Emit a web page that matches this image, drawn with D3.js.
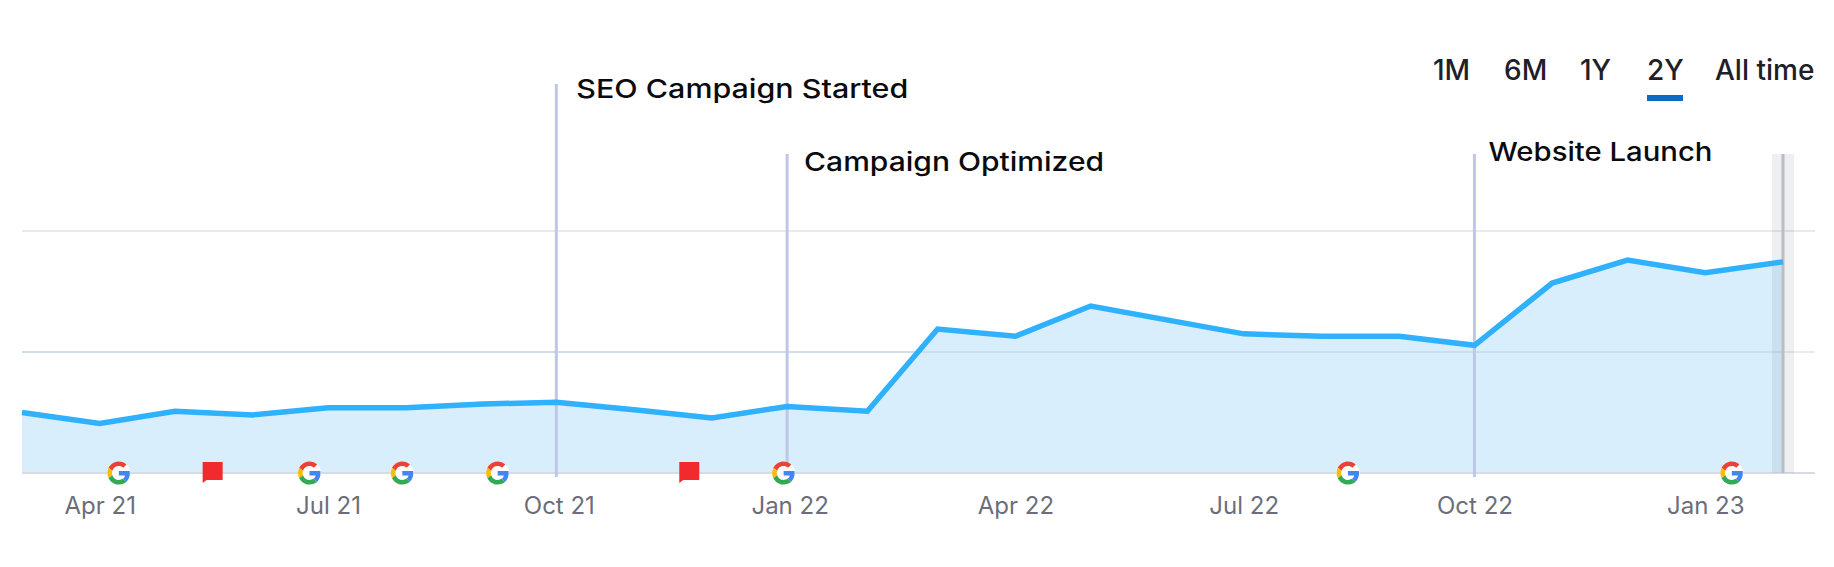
<!DOCTYPE html>
<html>
<head>
<meta charset="utf-8">
<script src="https://d3js.org/d3.v7.min.js"></script>
<style>
  html, body { margin: 0; padding: 0; background: #fff; }
  svg { display: block; }
  text { font-family: Inter, sans-serif; }
</style>
</head>
<body>
<div id="chart"></div>
<script>
const dates = ["2021-03-01","2021-04-01","2021-05-01","2021-06-01","2021-07-01","2021-08-01","2021-09-01","2021-09-30","2021-11-01","2021-12-01","2021-12-31","2022-02-01","2022-03-01","2022-04-01","2022-05-01","2022-07-01","2022-08-01","2022-09-01","2022-10-01","2022-11-01","2022-12-01","2023-01-01","2023-02-01"];
const visibility = [0.50,0.41,0.51,0.48,0.54,0.54,0.57,0.585,0.52,0.455,0.55,0.51,1.19,1.13,1.38,1.15,1.13,1.13,1.055,1.57,1.76,1.655,1.745];

const tickMonths = ["2021-04","2021-07","2021-10","2022-01","2022-04","2022-07","2022-10","2023-01"];
const gridValues = [1, 2];

const googleDates = ["2021-04-09","2021-06-24","2021-07-31","2021-09-07","2021-12-30","2022-08-12","2023-01-12"];
const noteDates = ["2021-05-16","2021-11-22"];

const eventDates = ["2021-09-30","2021-12-31","2022-10-01"];
const eventLabels = ["SEO Campaign Started","Campaign Optimized","Website Launch"];
const eventTops = [84, 154, 154];
const eventBaselines = [98, 171, 161];
const eventLabelWidths = [332, 300, 224];
const eventLabelOffsets = [20, 17, 14];

const ranges = ["1M","6M","1Y","2Y","All time"];
const rangeX = [1433,1504,1580,1647,1715];
const activeRange = "2Y";

const width = 1834, height = 567;
const left = 22, right = 1783, gridEnd = 1815;
const baseY = 473;

const parseMonth = d3.utcParse("%Y-%m");
const parseDay = d3.utcParse("%Y-%m-%d");

const data = dates.map((m, i) => ({ date: parseDay(m), value: visibility[i] }));

const svg = d3.select("#chart")
  .append("svg")
  .attr("width", width)
  .attr("height", height);

const x = d3.scaleUtc()
  .domain(d3.extent(data, d => d.date))
  .range([left, right]);

const y = d3.scaleLinear()
  .domain([0, 2])
  .range([baseY, 231]);

// grid
svg.selectAll(".grid")
  .data(gridValues)
  .enter()
  .append("line")
  .attr("x1", left)
  .attr("x2", gridEnd)
  .attr("y1", d => y(d))
  .attr("y2", d => y(d))
  .attr("stroke", "#e8eaee")
  .attr("stroke-width", 2);

// area + line
svg.append("path")
  .datum(data)
  .attr("fill", "#d8eefd")
  .attr("d", d3.area().x(d => x(d.date)).y0(baseY).y1(d => y(d.value)));

svg.selectAll(".grid-over")
  .data(gridValues.slice(0, 1))
  .enter()
  .append("line")
  .attr("x1", left)
  .attr("x2", right)
  .attr("y1", d => y(d))
  .attr("y2", d => y(d))
  .attr("stroke", "#cddeea")
  .attr("stroke-width", 2);

svg.append("line")
  .attr("x1", left)
  .attr("x2", gridEnd)
  .attr("y1", baseY)
  .attr("y2", baseY)
  .attr("stroke", "#d6dbe4")
  .attr("stroke-width", 2);

// grey hover band on the last point
const lastX = x(data[data.length - 1].date);
svg.append("rect")
  .attr("x", lastX - 11)
  .attr("y", 154)
  .attr("width", 22)
  .attr("height", baseY - 154)
  .attr("fill", "rgba(110,125,140,0.12)");
svg.append("line")
  .attr("x1", lastX)
  .attr("x2", lastX)
  .attr("y1", 154)
  .attr("y2", baseY)
  .attr("stroke", "#b7bec6")
  .attr("stroke-width", 3);

// event lines
eventDates.forEach((d, i) => {
  const ex = x(parseDay(d));
  svg.append("line")
    .attr("x1", ex)
    .attr("x2", ex)
    .attr("y1", eventTops[i])
    .attr("y2", baseY + 4)
    .attr("stroke", "#bfc6e8")
    .attr("stroke-width", 3);
  svg.append("text")
    .attr("x", ex + eventLabelOffsets[i])
    .attr("y", eventBaselines[i])
    .attr("font-size", 26)
    .attr("font-weight", 500)
    .attr("fill", "#0b0b0f")
    .attr("textLength", eventLabelWidths[i])
    .attr("lengthAdjust", "spacingAndGlyphs")
    .text(eventLabels[i]);
});

svg.append("path")
  .datum(data)
  .attr("fill", "none")
  .attr("stroke", "#2fb1fd")
  .attr("stroke-width", 5.5)
  .attr("stroke-linejoin", "miter")
  .attr("d", d3.line().x(d => x(d.date)).y(d => y(d.value)));

// x axis
const xAxis = d3.axisBottom(x)
  .tickValues(tickMonths.map(parseMonth))
  .tickSize(0)
  .tickFormat(d3.utcFormat("%b %y"));

const axisG = svg.append("g")
  .attr("transform", `translate(0,${baseY})`)
  .call(xAxis);
axisG.select(".domain").remove();
axisG.selectAll("text")
  .attr("y", 41)
  .attr("dy", 0)
  .attr("font-size", 24)
  .attr("font-family", "Inter, sans-serif")
  .attr("fill", "#6b6e7a");

// google update icons
const gPaths = [
  ["#EA4335", "M24 9.5c3.54 0 6.71 1.22 9.21 3.6l6.85-6.85C35.9 2.38 30.47 0 24 0 14.62 0 6.51 5.38 2.56 13.22l7.98 6.19C12.43 13.72 17.74 9.5 24 9.5z"],
  ["#4285F4", "M46.98 24.55c0-1.57-.15-3.09-.38-4.55H24v9.02h12.94c-.58 2.96-2.26 5.48-4.78 7.18l7.73 6c4.51-4.18 7.09-10.36 7.09-17.65z"],
  ["#FBBC05", "M10.53 28.59c-.48-1.45-.76-2.99-.76-4.59s.27-3.14.76-4.59l-7.98-6.19C.92 16.46 0 20.12 0 24c0 3.88.92 7.54 2.56 10.78l7.97-6.19z"],
  ["#34A853", "M24 48c6.48 0 11.93-2.13 15.89-5.81l-7.73-6c-2.15 1.45-4.92 2.3-8.16 2.3-6.26 0-11.57-4.22-13.47-9.91l-7.98 6.19C6.51 42.62 14.62 48 24 48z"]
];

const g = svg.selectAll(".google")
  .data(googleDates.map(parseDay))
  .enter()
  .append("g")
  .attr("transform", d => `translate(${x(d) - 12.5},${baseY - 11.5}) scale(${23 / 48})`);
g.append("circle")
  .attr("cx", 24)
  .attr("cy", 24)
  .attr("r", 24)
  .attr("fill", "#fff");
gPaths.forEach(p => {
  g.append("path").attr("fill", p[0]).attr("d", p[1]);
});

// red notes
svg.selectAll(".note")
  .data(noteDates.map(parseDay))
  .enter()
  .append("path")
  .attr("transform", d => `translate(${x(d) - 10},${baseY - 11})`)
  .attr("fill", "#f02a2d")
  .attr("d", "M0 0H20V18H4L0 21Z");

// range selector
svg.selectAll(".range")
  .data(ranges)
  .enter()
  .append("text")
  .attr("x", (d, i) => rangeX[i])
  .attr("y", 80)
  .attr("font-size", 28)
  .attr("font-weight", 500)
  .attr("fill", "#1d2029")
  .text(d => d);

svg.append("rect")
  .attr("x", rangeX[ranges.indexOf(activeRange)])
  .attr("y", 95)
  .attr("width", 36)
  .attr("height", 6)
  .attr("fill", "#0a6cc4");
</script>
</body>
</html>
